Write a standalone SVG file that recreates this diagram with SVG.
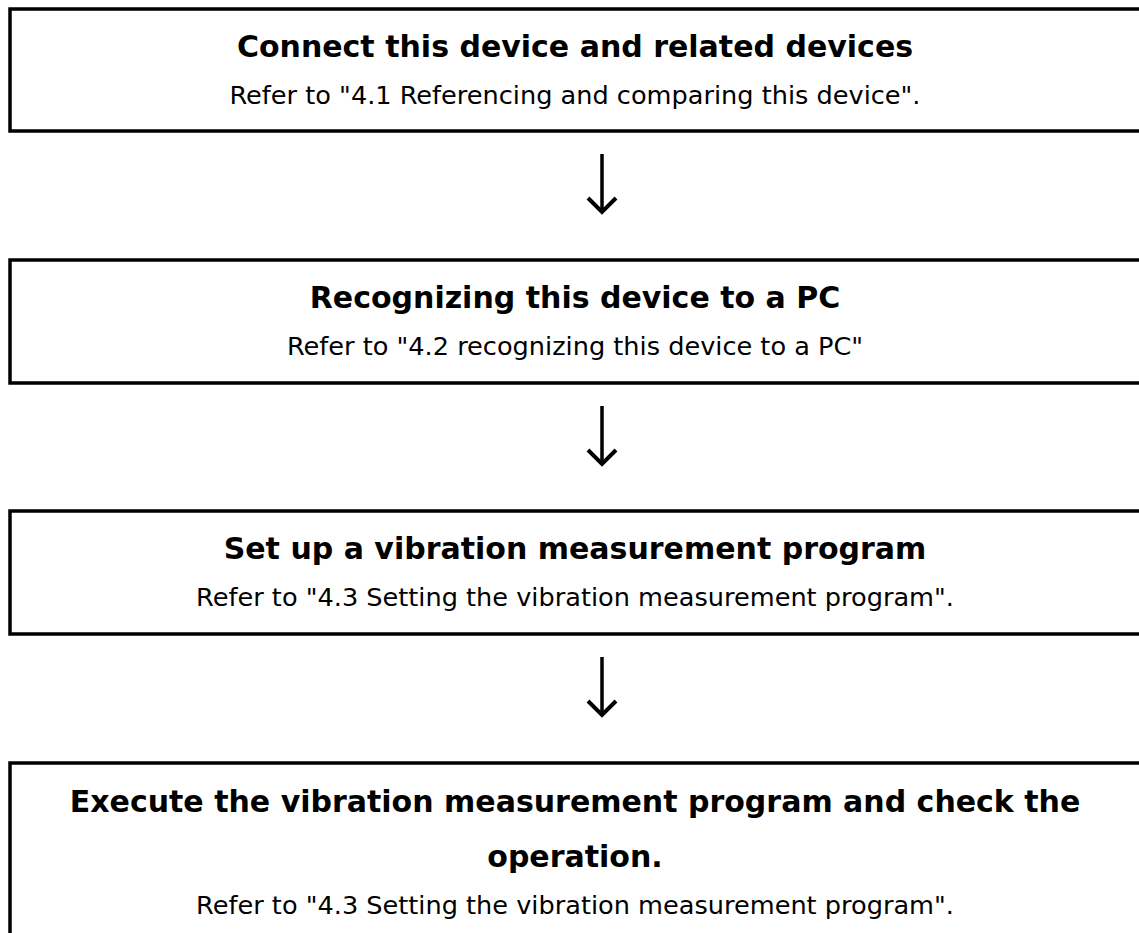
<svg xmlns="http://www.w3.org/2000/svg" width="1139" height="933" viewBox="0 0 1139 933">
  <style>
    .box { fill: #ffffff; stroke: #000000; stroke-width: 3.5; }
    .title { font-family: "DejaVu Sans", "Verdana", sans-serif; font-weight: bold; font-size: 30px; fill: #000000; text-anchor: middle; }
    .sub { font-family: "DejaVu Sans", "Verdana", sans-serif; font-size: 25.6px; fill: #000000; text-anchor: middle; }
    .shaft { stroke: #000000; stroke-width: 3.5; fill: none; }
    .head { stroke: #000000; stroke-width: 4; fill: none; stroke-linejoin: miter; stroke-linecap: butt; }
  </style>
  <rect x="0" y="0" width="1139" height="933" fill="#ffffff"/>

  <!-- step 1 -->
  <g id="step-connect">
    <rect class="box" x="10" y="9" width="1150" height="122"/>
    <text class="title" x="575" y="57">Connect this device and related devices</text>
    <text class="sub" x="575" y="104">Refer to "4.1 Referencing and comparing this device".</text>
  </g>

  <!-- step 2 -->
  <g id="step-recognize">
    <rect class="box" x="10" y="260" width="1150" height="123"/>
    <text class="title" x="575" y="308">Recognizing this device to a PC</text>
    <text class="sub" x="575" y="355">Refer to "4.2 recognizing this device to a PC"</text>
  </g>

  <!-- step 3 -->
  <g id="step-setup">
    <rect class="box" x="10" y="511" width="1150" height="123"/>
    <text class="title" x="575" y="559">Set up a vibration measurement program</text>
    <text class="sub" x="575" y="606">Refer to "4.3 Setting the vibration measurement program".</text>
  </g>

  <!-- step 4 (runs past the bottom edge) -->
  <g id="step-execute">
    <rect class="box" x="10" y="763" width="1150" height="200"/>
    <text class="title" x="575" y="812">Execute the vibration measurement program and check the</text>
    <text class="title" x="575" y="867">operation.</text>
    <text class="sub" x="575" y="914">Refer to "4.3 Setting the vibration measurement program".</text>
  </g>

  <!-- downward arrows between steps -->
  <g id="connectors">
    <line class="shaft" x1="602" y1="154" x2="602" y2="212"/>
    <polyline class="head" points="588,198 602,212 616,198"/>
    <line class="shaft" x1="602" y1="406" x2="602" y2="464"/>
    <polyline class="head" points="588,450 602,464 616,450"/>
    <line class="shaft" x1="602" y1="657" x2="602" y2="715"/>
    <polyline class="head" points="588,701 602,715 616,701"/>
  </g>
</svg>
